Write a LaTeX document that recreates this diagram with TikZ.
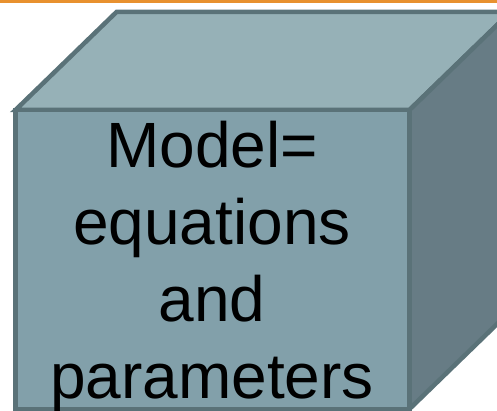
\documentclass[tikz,border=0pt]{standalone}
\usepackage{fontspec}
\setmainfont{Liberation Sans}
\definecolor{topc}{HTML}{96B1B7}
\definecolor{frontc}{HTML}{82A0AA}
\definecolor{sidec}{HTML}{677C85}
\definecolor{edgec}{HTML}{5A7278}
\definecolor{orangec}{HTML}{E8912F}
\tikzset{
  face/.style={draw=edgec, line width=4.5pt, line join=miter},
  label/.style={align=center, inner sep=0pt, font=\fontsize{64}{77}\selectfont, text=black}
}
\begin{document}
\begin{tikzpicture}[x=1pt,y=-1pt]
\useasboundingbox (0,0) rectangle (497,411);
\clip (0,0) rectangle (497,411);
\fill[white] (0,0) rectangle (497,411);
% cube corners
\coordinate (fa) at (15.5,110);
\coordinate (fb) at (409.5,110);
\coordinate (fc) at (409.5,409);
\coordinate (fd) at (15.5,409);
\coordinate (ba) at (116.5,12);
\coordinate (bb) at (510.5,12);
\coordinate (bc) at (510.5,311);
\draw[face, fill=topc] (fa) -- (ba) -- (bb) -- (fb) -- cycle;
\draw[face, fill=sidec] (fb) -- (bb) -- (bc) -- (fc) -- cycle;
\draw[face, fill=frontc] (fa) -- (fb) -- (fc) -- (fd) -- cycle;
\fill[orangec] (0,0) rectangle (497,3.3);
\node[label] (txt) at (212,266) {Model=\\equations\\and\\parameters};
\end{tikzpicture}
\end{document}
